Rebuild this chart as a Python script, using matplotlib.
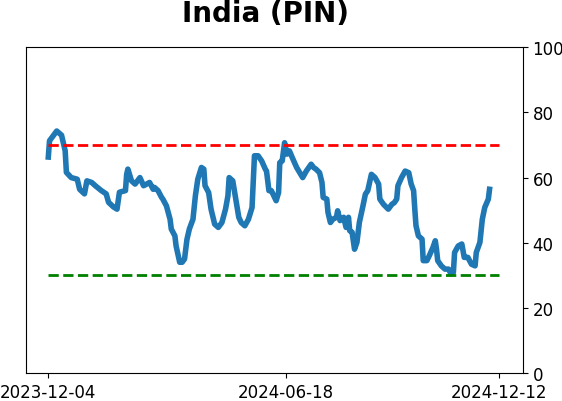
import numpy as np
import matplotlib.pyplot as plt
import matplotlib.dates as mdates

# days since 2023-12-04 and indicator values
start = np.datetime64('2023-12-04')
days = [0, 1, 7, 11, 14, 15, 19, 24, 26, 30, 32, 36, 39, 44, 48, 50, 54, 57, 59, 64,
        65, 66, 69, 72, 76, 79, 84, 87, 88, 91, 94, 95, 98, 101, 102, 105, 106, 109, 111, 113,
        115, 117, 120, 122, 124, 127, 129, 130, 133, 135, 138, 141, 144, 147, 149, 150, 153, 156, 158, 160,
        163, 166, 169, 171, 174, 177, 180, 181, 183, 185, 189, 191, 192, 194, 196, 198, 200, 203, 206, 211,
        214, 218, 220, 222, 225, 227, 228, 231, 232, 234, 236, 239, 240, 242, 245, 247, 249, 250, 252, 254,
        256, 258, 261, 263, 265, 268, 271, 274, 275, 278, 282, 285, 287, 289, 290, 293, 296, 299, 301, 303,
        304, 305, 307, 310, 311, 314, 316, 319, 321, 322, 323, 326, 329, 332, 334, 336, 337, 340, 343, 345,
        348, 351, 354, 355, 358, 360, 362, 365, 366]
values = [66.3, 71.3, 74.3, 73.0, 68.2, 61.6, 60.0, 59.5, 56.4, 55.0, 59.0, 58.5, 57.5, 56.0, 55.0, 52.4, 51.0, 50.3, 55.5, 56.0,
          61.0, 62.6, 59.0, 58.0, 60.0, 57.5, 58.5, 56.4, 57.0, 56.0, 53.9, 53.4, 51.3, 47.2, 44.2, 42.1, 39.0, 34.0, 34.0, 35.0,
          41.0, 44.2, 47.2, 54.4, 59.5, 63.1, 62.6, 57.5, 55.4, 50.3, 45.7, 44.7, 46.2, 50.3, 54.4, 60.0, 59.0, 52.3, 47.8, 46.2,
          45.2, 47.2, 50.8, 66.7, 66.7, 65.1, 62.6, 62.0, 56.0, 56.0, 52.9, 55.4, 64.6, 65.1, 70.7, 67.2, 68.2, 65.6, 63.1, 60.0,
          62.0, 64.1, 63.1, 62.6, 61.5, 58.5, 53.9, 53.4, 49.3, 46.2, 47.2, 47.8, 49.8, 46.8, 47.8, 44.7, 47.8, 43.7, 43.2, 38.0,
          40.1, 46.2, 51.3, 54.9, 56.0, 61.0, 60.0, 58.0, 53.4, 51.8, 50.3, 51.8, 52.3, 53.4, 57.5, 60.0, 62.0, 61.5, 58.0, 56.0,
          50.3, 45.2, 42.1, 41.1, 34.5, 34.5, 36.0, 38.5, 40.6, 38.0, 34.5, 32.9, 31.9, 31.9, 30.4, 30.9, 37.0, 39.0, 39.6, 35.5,
          35.5, 33.4, 32.9, 37.0, 40.1, 47.2, 50.8, 53.4, 56.4]

upper = 70
lower = 30
tick_dates = ['2023-12-04', '2024-06-18', '2024-12-12']

dates = start + np.array(days).astype('timedelta64[D]')
line_start = np.datetime64('2023-12-04')
line_end = np.datetime64('2024-12-12')

fig = plt.figure(figsize=(5.62, 4.02), dpi=100)
ax = fig.add_axes([26 / 562, 1 - 374 / 402, (522.7 - 26) / 562, (374 - 48.3) / 402])

ax.plot(dates, values, color='#1f77b4', linewidth=4)
ax.plot([line_start, line_end], [upper, upper], color='red', linestyle='--', linewidth=2)
ax.plot([line_start, line_end], [lower, lower], color='green', linestyle='--', linewidth=2)

ax.set_ylim(0, 100)
ax.set_xlim(np.datetime64('2023-11-15T12'), np.datetime64('2024-12-31T12'))
ax.yaxis.tick_right()
ax.set_yticks([0, 20, 40, 60, 80, 100])
ax.set_xticks([np.datetime64(d) for d in tick_dates])
ax.xaxis.set_major_formatter(mdates.DateFormatter('%Y-%m-%d'))
ax.tick_params(labelsize=12)

# title sits a little left of the axes centre in the original
fig.text(265 / 562, 1 - 22 / 402, 'India (PIN)', fontsize=20, fontweight='bold',
         ha='center', va='baseline')

fig.savefig('out.png', dpi=100)
